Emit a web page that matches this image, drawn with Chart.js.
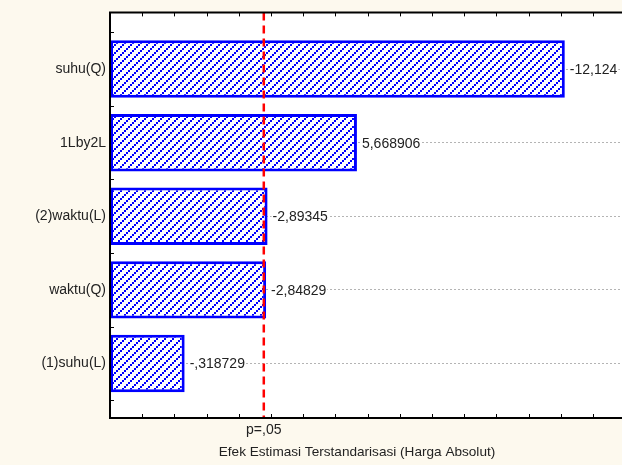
<!DOCTYPE html>
<html>
<head>
<meta charset="utf-8">
<script src="https://cdn.jsdelivr.net/npm/chart.js@4.4.1/dist/chart.umd.min.js"></script>
<style>
  html, body { margin: 0; padding: 0; background: #fdf9ee; }
  #wrap { width: 622px; height: 465px; }
</style>
</head>
<body>
<div id="wrap"><canvas id="grafikPareto"></canvas></div>
<script>
// data
const faktor = ['suhu(Q)', '1Lby2L', '(2)waktu(L)', 'waktu(Q)', '(1)suhu(L)'];
const efek = [-12.124, 5.668906, -2.89345, -2.84829, -0.318729];
const batasP = 2.776;          // t kritis p=,05
const labelBatas = 'p=,05';
const judulX = 'Efek Estimasi Terstandarisasi (Harga Absolut)';
const xMin = -2, xMax = 13.9;

const keluarga = '"Liberation Sans", Arial, sans-serif';
const fontTeks = '14px ' + keluarga;

// format gaya Statistica: koma desimal, tanpa nol di depan
function formatEfek(v) {
  let s = String(v).replace('.', ',');
  return s.replace(/^(-?)0,/, '$1,');
}

// pola arsir biru
function buatArsir() {
  const c = document.createElement('canvas');
  c.width = 8; c.height = 8;
  const g = c.getContext('2d');
  g.fillStyle = '#ffffff';
  g.fillRect(0, 0, 8, 8);
  g.fillStyle = '#0000ff';
  for (let k = 0; k < 4; k++) {
    g.fillRect(2 * k, 6 - 2 * k, 2, 2);
  }
  return g.createPattern(c, 'repeat');
}

// bingkai, garis p, tick ke dalam, label nilai, judul
const dekorasi = {
  id: 'dekorasi',
  beforeDraw(chart) {
    const { ctx, chartArea: a } = chart;
    ctx.save();
    ctx.fillStyle = '#ffffff';
    ctx.fillRect(a.left, a.top, a.right - a.left, a.bottom - a.top);
    ctx.restore();
  },
  afterDatasetsDraw(chart) {
    const { ctx, chartArea: a, scales: { x, y } } = chart;
    ctx.save();
    // label nilai
    ctx.font = fontTeks;
    ctx.textBaseline = 'middle';
    chart.getDatasetMeta(0).data.forEach((bar, i) => {
      const t = formatEfek(efek[i]);
      const w = ctx.measureText(t).width;
      const tx = bar.x + 5;
      ctx.fillStyle = '#ffffff';
      ctx.fillRect(tx - 1, bar.y - 8, w + 2, 16);
      ctx.fillStyle = '#222222';
      ctx.fillText(t, tx, bar.y + 1);
    });
    // garis p=,05
    const px = x.getPixelForValue(batasP);
    ctx.strokeStyle = '#ff0000';
    ctx.lineWidth = 2.5;
    ctx.setLineDash([8, 5]);
    ctx.beginPath();
    ctx.moveTo(px, a.top);
    ctx.lineTo(px, a.bottom);
    ctx.stroke();
    ctx.setLineDash([]);
    // tick ke dalam
    ctx.strokeStyle = '#000000';
    ctx.lineWidth = 1;
    ctx.beginPath();
    for (let v = Math.ceil(xMin); v <= xMax; v++) {
      const tx = Math.round(x.getPixelForValue(v)) + 0.5;
      ctx.moveTo(tx, a.top); ctx.lineTo(tx, a.top + 4);
      ctx.moveTo(tx, a.bottom); ctx.lineTo(tx, a.bottom - 4);
    }
    for (let i = -0.5; i <= faktor.length - 0.5; i++) {
      const ty = Math.round(y.getPixelForValue(i)) + 0.5;
      ctx.moveTo(a.left, ty); ctx.lineTo(a.left + 4, ty);
    }
    ctx.stroke();
    // bingkai
    ctx.lineWidth = 2;
    ctx.beginPath();
    ctx.moveTo(a.right + 2, a.top);
    ctx.lineTo(a.left, a.top);
    ctx.lineTo(a.left, a.bottom);
    ctx.lineTo(a.right + 2, a.bottom);
    ctx.stroke();
    // judul sumbu x
    ctx.font = '13.6px ' + keluarga;
    ctx.fillStyle = '#222222';
    ctx.textAlign = 'center';
    ctx.textBaseline = 'middle';
    ctx.fillText(judulX, 357, 452);
    ctx.restore();
  }
};

// setup
const data = {
  datasets: [{
    label: 'Efek',
    data: efek.map((v, i) => ({ x: Math.abs(v), y: i })),
    base: xMin,
    backgroundColor: buatArsir(),
    borderColor: '#0000ff',
    borderWidth: 3,
    borderSkipped: false,
    categoryPercentage: 1,
    barPercentage: 0.78,
  }]
};

// config
const config = {
  type: 'bar',
  data,
  plugins: [dekorasi],
  options: {
    indexAxis: 'y',
    responsive: true,
    maintainAspectRatio: false,
    animation: false,
    layout: { padding: { top: 10, right: 0, left: 0, bottom: 0 } },
    scales: {
      x: {
        type: 'linear',
        min: xMin,
        max: xMax,
        border: { display: false },
        grid: { display: false, drawTicks: false, tickLength: 0 },
        afterBuildTicks(scale) { scale.ticks = [{ value: batasP }]; },
        afterFit(scale) { scale.height = 47; },
        ticks: {
          padding: 4,
          color: '#222222',
          font: { family: keluarga, size: 14 },
          callback: () => labelBatas,
        }
      },
      y: {
        type: 'linear',
        reverse: true,
        offset: false,
        min: -0.77,
        max: 4.74,
        border: { display: false, dash: [2, 2] },
        grid: {
          offset: false,
          color: '#b4b4b4',
          lineWidth: 1,
          drawTicks: false,
        },
        afterBuildTicks(scale) { scale.ticks = faktor.map((f, i) => ({ value: i })); },
        afterFit(scale) { scale.width = 110; },
        ticks: {
          padding: 4,
          color: '#222222',
          font: { family: keluarga, size: 14 },
          callback: (v) => faktor[v] ?? '',
        }
      }
    },
    plugins: {
      legend: { display: false },
      tooltip: { enabled: false },
    }
  }
};

// render init block
const myChart = new Chart(document.getElementById('grafikPareto'), config);
</script>
</body>
</html>
